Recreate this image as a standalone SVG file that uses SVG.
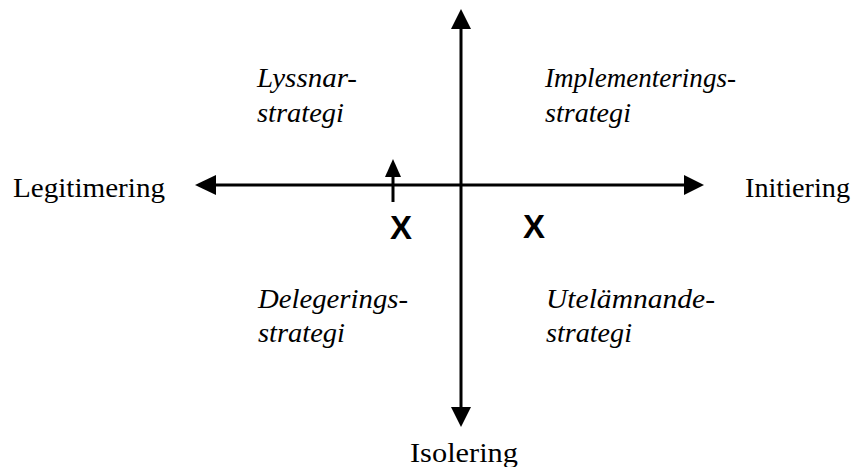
<svg xmlns="http://www.w3.org/2000/svg" width="854" height="467" viewBox="0 0 854 467">
  <style>
    .axis { stroke: #000; stroke-width: 3; fill: none; }
    .head { fill: #000; }
    .lbl { font-family: "Liberation Serif", "Times New Roman", serif; font-size: 27px; fill: #000; }
    .strat { font-family: "Liberation Serif", "Times New Roman", serif; font-style: italic; font-size: 27px; fill: #000; }
    .mark { font-family: "Liberation Sans", Arial, sans-serif; font-weight: bold; font-size: 33px; fill: #000; text-anchor: middle; }
  </style>
  <rect width="854" height="467" fill="#fff"/>

  <g id="connectors">
    <!-- horizontal axis -->
    <line class="axis" x1="214" y1="185" x2="687" y2="185"/>
    <polygon class="head" points="195,185 216,175 216,195"/>
    <polygon class="head" points="704,185 684,175 684,195"/>
    <!-- vertical axis -->
    <line class="axis" x1="461" y1="26" x2="461" y2="409"/>
    <polygon class="head" points="461,9 451,29 471,29"/>
    <polygon class="head" points="461,427 451,407 471,407"/>
    <!-- small upward arrow -->
    <line class="axis" x1="393" y1="202" x2="393" y2="174"/>
    <polygon class="head" points="393,159 385,177 401,177"/>
  </g>

  <g id="legitimering"><text class="lbl" x="13" y="197" textLength="152" lengthAdjust="spacingAndGlyphs">Legitimering</text></g>
  <g id="initiering"><text class="lbl" x="745" y="197" textLength="105" lengthAdjust="spacingAndGlyphs">Initiering</text></g>
  <g id="isolering"><text class="lbl" x="410" y="462" textLength="108" lengthAdjust="spacingAndGlyphs">Isolering</text></g>

  <g id="lyssnar">
    <text class="strat" x="257" y="87" textLength="100" lengthAdjust="spacingAndGlyphs">Lyssnar-</text>
    <text class="strat" x="257" y="122" textLength="87" lengthAdjust="spacingAndGlyphs">strategi</text>
  </g>
  <g id="implementering">
    <text class="strat" x="545" y="87" textLength="191" lengthAdjust="spacingAndGlyphs">Implementerings-</text>
    <text class="strat" x="545" y="122" textLength="86" lengthAdjust="spacingAndGlyphs">strategi</text>
  </g>
  <g id="delegering">
    <text class="strat" x="258" y="308" textLength="150" lengthAdjust="spacingAndGlyphs">Delegerings-</text>
    <text class="strat" x="258" y="342" textLength="87" lengthAdjust="spacingAndGlyphs">strategi</text>
  </g>
  <g id="utelamnande">
    <text class="strat" x="546" y="308" textLength="169" lengthAdjust="spacingAndGlyphs">Utelämnande-</text>
    <text class="strat" x="546" y="342" textLength="86" lengthAdjust="spacingAndGlyphs">strategi</text>
  </g>

  <g id="mark-left"><text class="mark" x="401" y="239">X</text></g>
  <g id="mark-right"><text class="mark" x="534" y="238">X</text></g>
</svg>
